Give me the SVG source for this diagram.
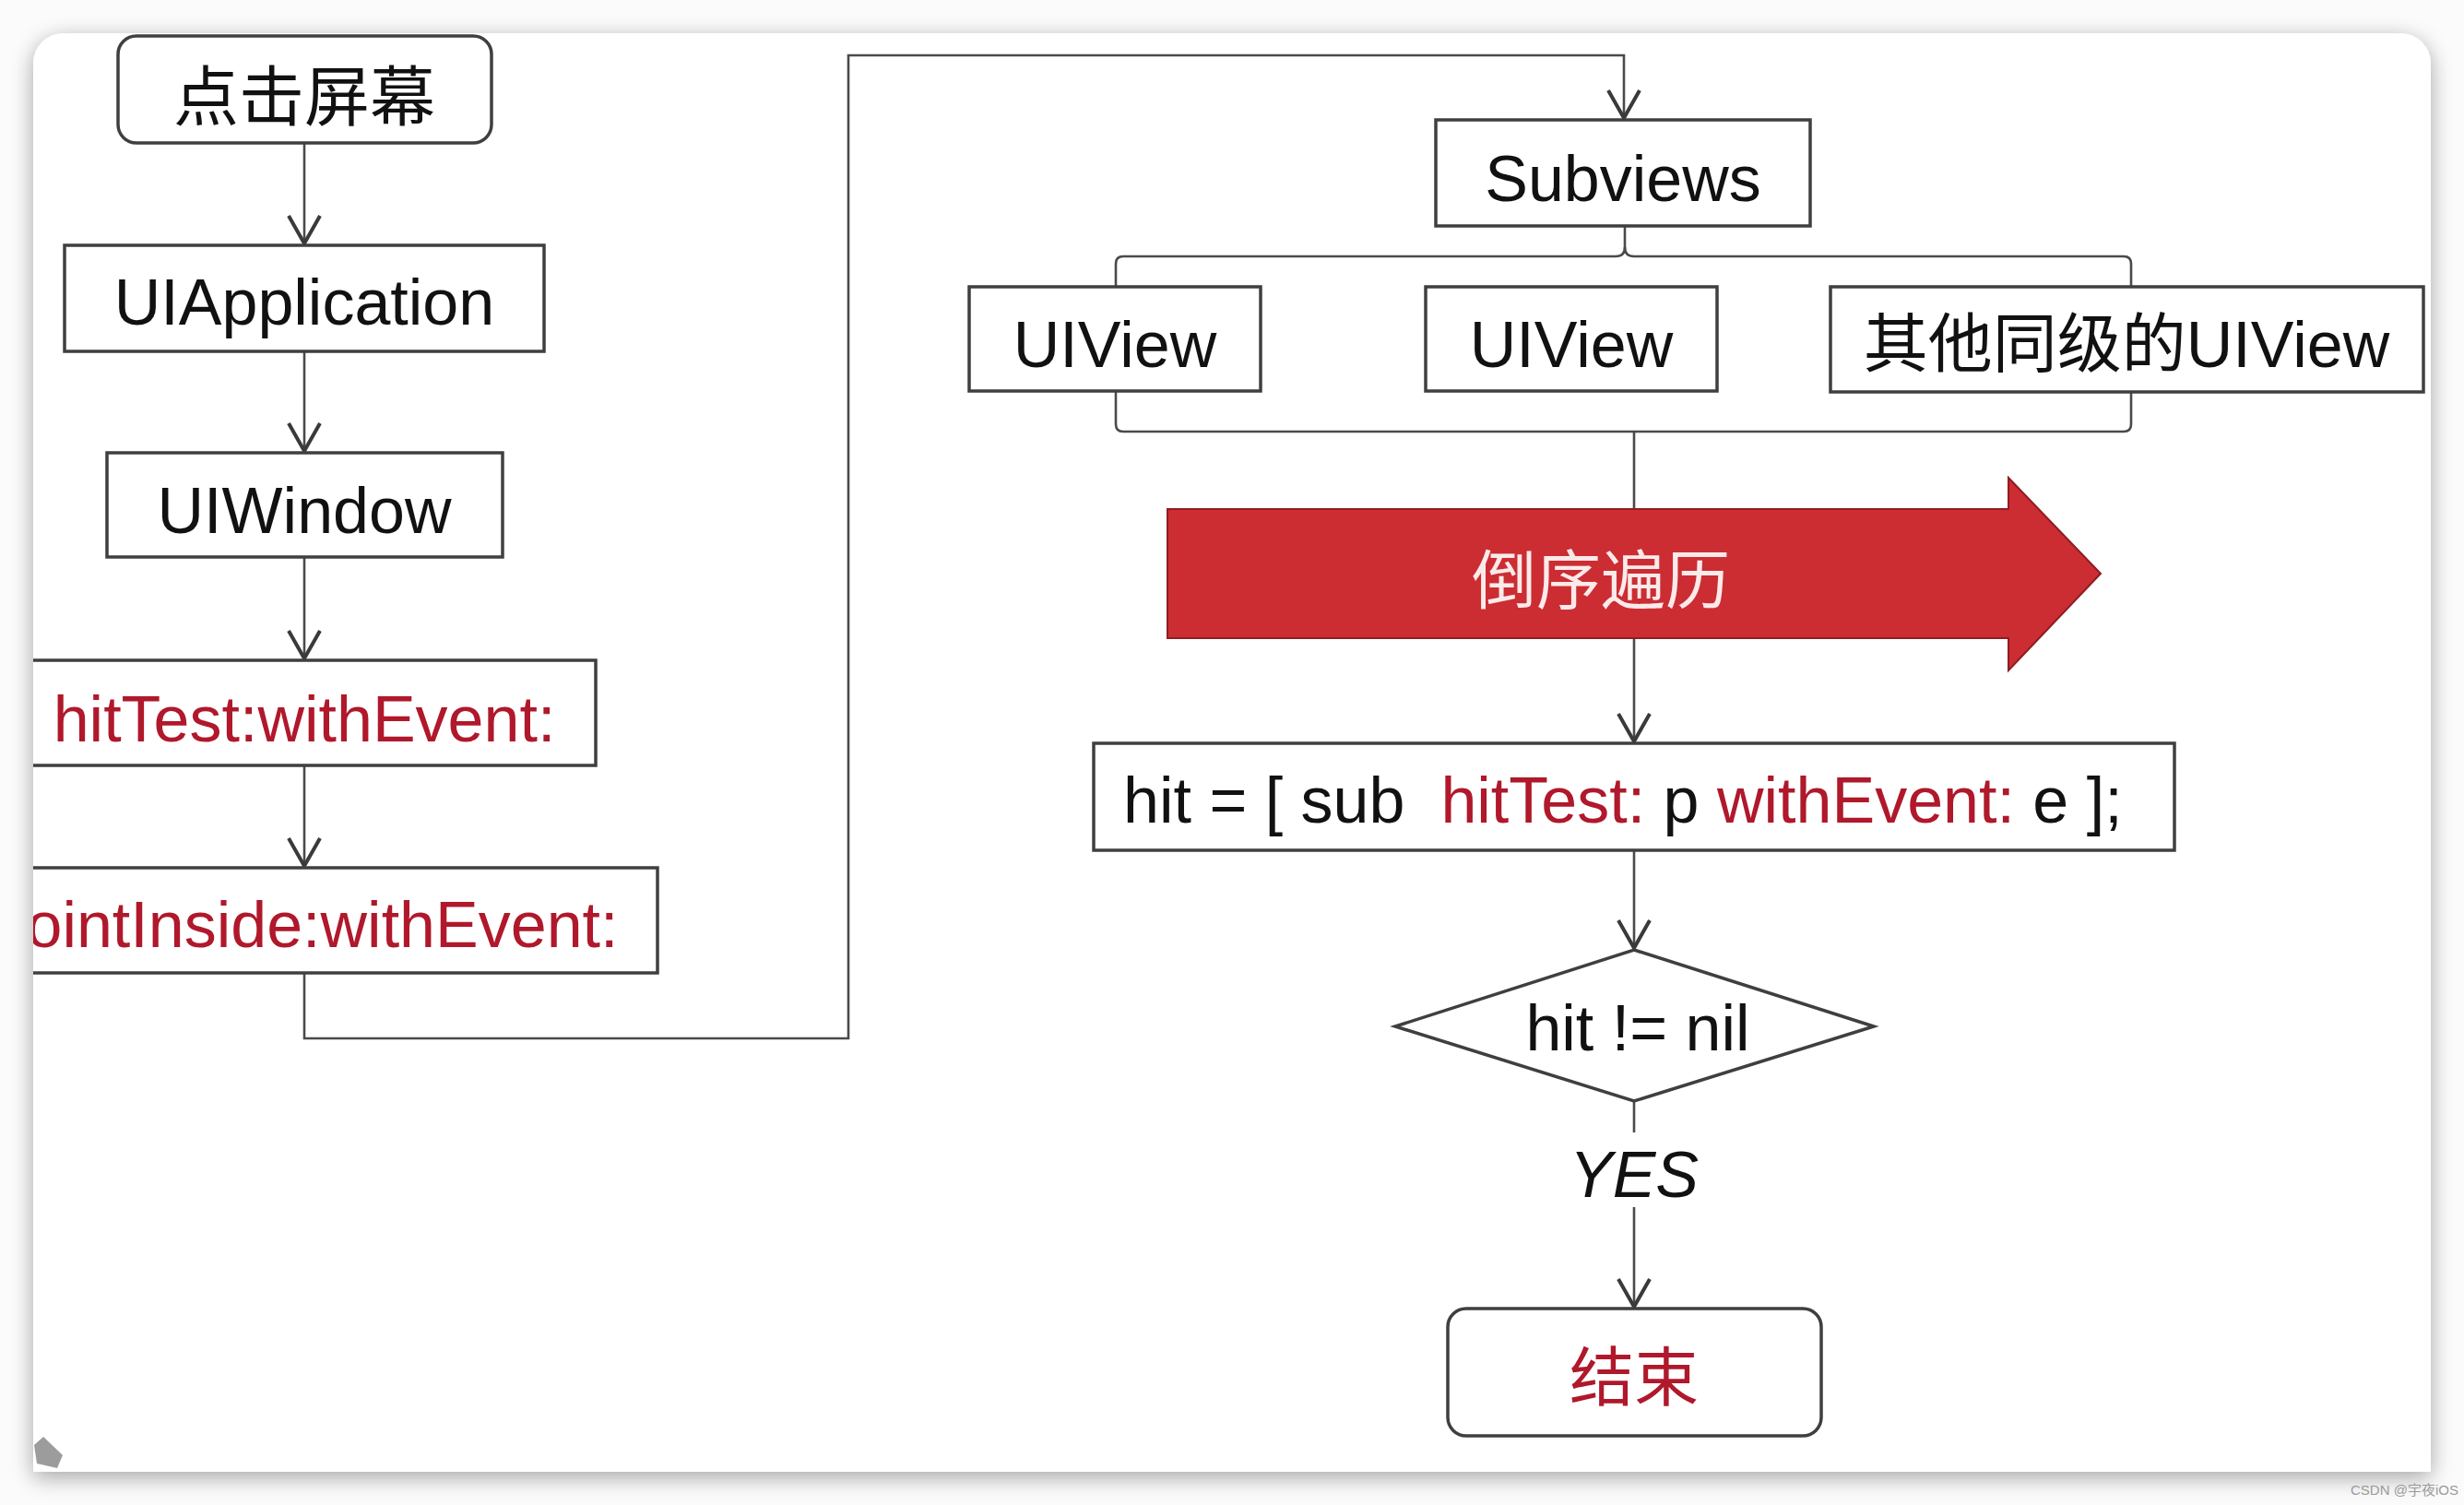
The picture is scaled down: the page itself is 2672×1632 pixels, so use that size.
<svg xmlns="http://www.w3.org/2000/svg" width="2672" height="1632" viewBox="0 0 2672 1632">
<style>
.box{fill:#ffffff;stroke:#3f3f3f;stroke-width:3.5}
.ln{fill:none;stroke:#4a4a4a;stroke-width:2.6}
.t{font-family:"Liberation Sans","Noto Sans CJK SC",Arial,sans-serif;font-size:70px;fill:#111111}
.cjk{font-family:"Noto Sans CJK SC","Liberation Sans",sans-serif;font-size:71px;fill:#111111}
.red{fill:#b0182b}
.mid{text-anchor:middle}
</style>
<defs>
<filter id="shadow" x="-5%" y="-5%" width="110%" height="112%">
<feGaussianBlur in="SourceAlpha" stdDeviation="12"/>
<feOffset dx="0" dy="6" result="b"/>
<feComponentTransfer><feFuncA type="linear" slope="0.35"/></feComponentTransfer>
<feMerge><feMergeNode/><feMergeNode in="SourceGraphic"/></feMerge>
</filter>
<clipPath id="cardclip"><path d="M36,69 A33,33 0 0 1 69,36 L2603,36 A33,33 0 0 1 2636,69 L2636,1596 L36,1596 Z"/></clipPath>
<marker id="arr" markerUnits="userSpaceOnUse" viewBox="-34 -22 38 44" markerWidth="38" markerHeight="44" refX="0" refY="0" orient="auto">
<path d="M-30,-17 L0,0 L-30,17" fill="none" stroke="#3a3a3a" stroke-width="4" stroke-linejoin="miter"/>
</marker>
</defs>
<rect x="0" y="0" width="2672" height="1632" fill="#fbfbfb"/>
<path d="M36,69 A33,33 0 0 1 69,36 L2603,36 A33,33 0 0 1 2636,69 L2636,1596 L36,1596 Z" fill="#ffffff" filter="url(#shadow)"/>
<g clip-path="url(#cardclip)">
<g id="connectors">
<line class="ln" x1="330" y1="155" x2="330" y2="264" marker-end="url(#arr)"/>
<line class="ln" x1="330" y1="381" x2="330" y2="489" marker-end="url(#arr)"/>
<line class="ln" x1="330" y1="604" x2="330" y2="714" marker-end="url(#arr)"/>
<line class="ln" x1="330" y1="830" x2="330" y2="939" marker-end="url(#arr)"/>
<path class="ln" d="M330,1055 L330,1126 L920,1126 L920,60 L1761,60 L1761,128" marker-end="url(#arr)"/>
<path class="ln" d="M1762,245 L1762,268 Q1762,278 1752,278 L1218,278 Q1210,278 1210,286 L1210,311"/>
<path class="ln" d="M1762,268 Q1762,278 1772,278 L2303,278 Q2311,278 2311,286 L2311,311"/>
<path class="ln" d="M1210,424 L1210,460 Q1210,468 1218,468 L2303,468 Q2311,468 2311,460 L2311,425"/>
<line class="ln" x1="1772" y1="468" x2="1772" y2="804" marker-end="url(#arr)"/>
<line class="ln" x1="1772" y1="922" x2="1772" y2="1028" marker-end="url(#arr)"/>
<line class="ln" x1="1772" y1="1194" x2="1772" y2="1228"/>
<line class="ln" x1="1772" y1="1309" x2="1772" y2="1417" marker-end="url(#arr)"/>
</g>
<g id="n-tap">
<rect class="box" x="128" y="39" width="405" height="116" rx="20"/>
<text class="cjk mid" x="330" y="130">点击屏幕</text>
</g>
<g id="n-uiapplication">
<rect class="box" x="70" y="266" width="520" height="115"/>
<text class="t mid" x="330" y="352">UIApplication</text>
</g>
<g id="n-uiwindow">
<rect class="box" x="116" y="491" width="429" height="113"/>
<text class="t mid" x="330" y="578">UIWindow</text>
</g>
<g id="n-hittest">
<rect class="box" x="14" y="716" width="632" height="114"/>
<text class="t mid red" x="330" y="804">hitTest:withEvent:</text>
</g>
<g id="n-pointinside">
<rect class="box" x="-53" y="941" width="766" height="114"/>
<text class="t mid red" x="330" y="1027">pointInside:withEvent:</text>
</g>
<g id="n-subviews">
<rect class="box" x="1557" y="130" width="406" height="115"/>
<text class="t mid" x="1760" y="218">Subviews</text>
</g>
<g id="n-uiview1">
<rect class="box" x="1051" y="311" width="316" height="113"/>
<text class="t mid" x="1209" y="398">UIView</text>
</g>
<g id="n-uiview2">
<rect class="box" x="1546" y="311" width="316" height="113"/>
<text class="t mid" x="1704" y="398">UIView</text>
</g>
<g id="n-siblings">
<rect class="box" x="1985" y="311" width="643" height="114"/>
<text class="t mid" x="2306" y="398">其他同级的UIView</text>
</g>
<g id="n-reverse">
<polygon points="1266,552 2178,552 2178,518 2278,622 2178,727 2178,692 1266,692" fill="#cb2d33" stroke="#8e1d22" stroke-width="2"/>
<text class="cjk mid" x="1736" y="655" style="fill:#fbeaea;font-size:70px">倒序遍历</text>
</g>
<g id="n-hit">
<rect class="box" x="1186" y="806" width="1172" height="116"/>
<text class="t" x="1218" y="892" xml:space="preserve" style="white-space:pre">hit = [ sub  <tspan class="red">hitTest:</tspan> p <tspan class="red">withEvent:</tspan> e ];</text>
</g>
<g id="n-decision">
<polygon class="box" points="1772,1030 2032,1113 1772,1194 1513,1113"/>
<text class="t mid" x="1776" y="1139">hit != nil</text>
</g>
<g id="l-yes">
<text class="t mid" x="1772" y="1298" style="font-style:italic">YES</text>
</g>
<g id="n-end">
<rect class="box" x="1570" y="1419" width="405" height="138" rx="20"/>
<text class="cjk mid red" x="1772" y="1519" style="font-size:70px">结束</text>
</g>
<polygon points="37,1567 47,1558 68,1578 62,1592 40,1587" fill="#9c9c9c"/>
</g>
<text x="2549" y="1621" style="font-family:'Liberation Sans','Noto Sans CJK SC',sans-serif;font-size:15px;fill:#9a9a9a">CSDN @宇夜iOS</text>
</svg>
